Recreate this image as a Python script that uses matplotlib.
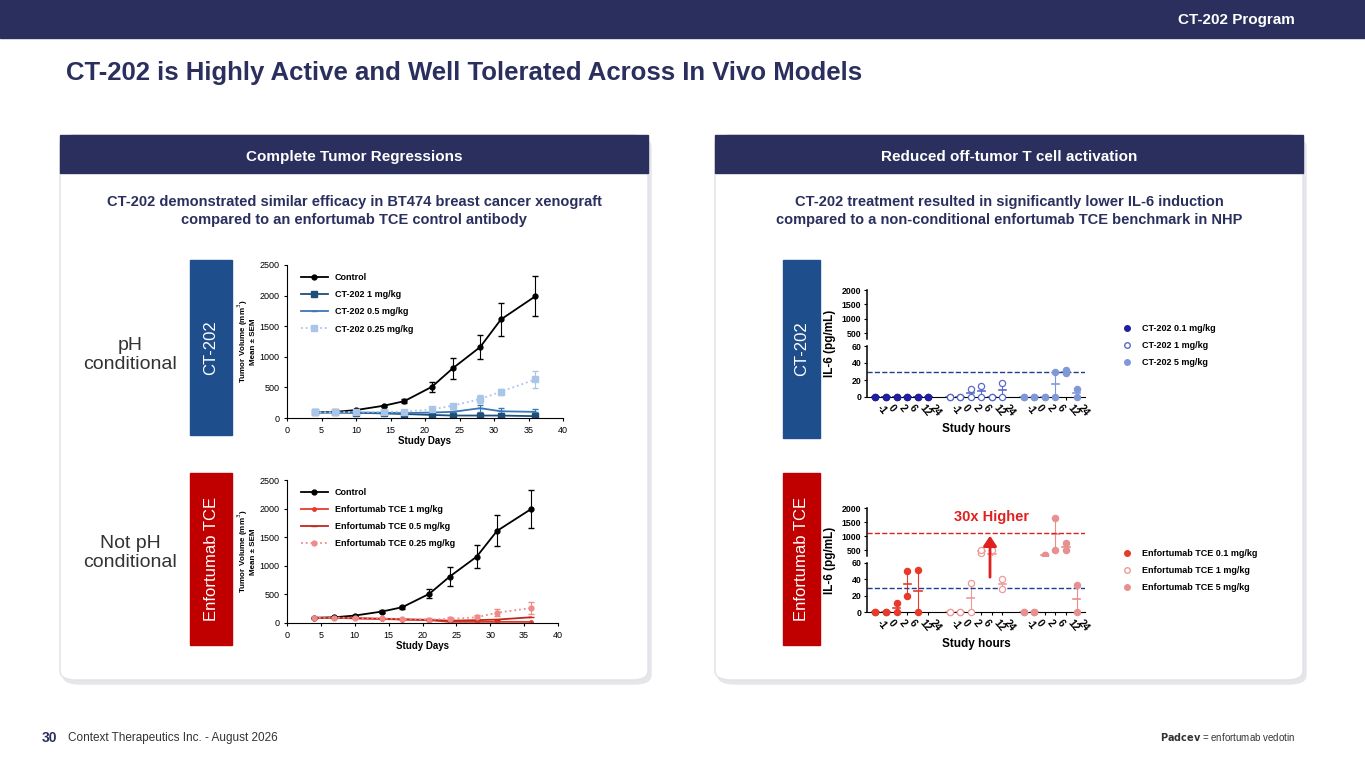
import matplotlib
matplotlib.use("Agg")
import matplotlib.pyplot as plt
from matplotlib.patches import FancyBboxPatch, Rectangle
from matplotlib.lines import Line2D
import numpy as np

W, H = 1365, 768
plt.rcParams['font.family'] = ['Liberation Sans', 'DejaVu Sans']
NAVY = '#2a2f5e'
BLUE = '#1f4e8c'
RED = '#c00000'

# ---------------- data ----------------
days = [4, 7, 10, 14, 17, 21, 24, 28, 31, 36]
control = [90, 100, 130, 200, 275, 510, 810, 1160, 1610, 1990]
control_err = [10, 10, 15, 20, 30, 80, 170, 200, 270, 330]
ct_1 = [90, 90, 85, 75, 65, 50, 40, 40, 40, 30]
ct_05 = [90, 90, 90, 85, 80, 90, 100, 160, 110, 100]
ct_05_err = [5, 5, 5, 10, 10, 20, 20, 60, 60, 40]
ct_025 = [90, 95, 100, 100, 105, 140, 200, 310, 430, 630]
ct_025_err = [5, 5, 10, 10, 15, 40, 30, 60, 50, 140]
ef_1 = [90, 90, 80, 70, 60, 50, 20, 20, 20, 20]
ef_05 = [90, 90, 85, 75, 65, 55, 40, 50, 60, 100]
ef_025 = [90, 95, 90, 80, 70, 60, 70, 100, 180, 260]
ef_025_err = [5, 5, 10, 10, 10, 20, 30, 40, 60, 100]

hours = ['-1', '0', '2', '6', '12', '24']
il6_ct = {
    'CT-202 0.1 mg/kg': [[0, 0], [0, 0], [0, 0], [0, 0], [0, 0], [0, 0]],
    'CT-202 1 mg/kg': [[0, 0], [0, 0], [0, 10], [0, 13], [0, 0], [0, 17]],
    'CT-202 5 mg/kg': [[0, 0], [0, 0], [0, 0], [0, 30], [28, 30, 32], [0, 10]],
}
il6_ef = {
    'Enfortumab TCE 0.1 mg/kg': [[0, 0], [0, 0], [0, 11], [19, 50], [0, 51], []],
    'Enfortumab TCE 1 mg/kg': [[0, 0], [0, 0], [0, 35], [420, 500], [250, 520], [28, 40]],
    'Enfortumab TCE 5 mg/kg': [[0, 0], [0, 0], [320, 340], [530, 1650], [500, 750], [0, 33]],
}

fig = plt.figure(figsize=(W/100, H/100), dpi=100)
fig.patch.set_facecolor('white')

def fx(x): return x / W
def fy(y): return 1 - y / H
def ax_px(x0, y0, x1, y1):
    a = fig.add_axes([x0/W, 1-y1/H, (x1-x0)/W, (y1-y0)/H])
    a.set_zorder(5)
    a.patch.set_alpha(0)
    return a

# ---------------- slide chrome ----------------
fig.patches.append(Rectangle((0, fy(38)), 1, 38/H, transform=fig.transFigure, color=NAVY))
fig.text(fx(1295), fy(20), 'CT-202 Program', color='white', fontsize=11, weight='bold', ha='right', va='center')
fig.text(fx(66), fy(73), 'CT-202 is Highly Active and Well Tolerated Across In Vivo Models',
         color=NAVY, fontsize=18.5, weight='bold', va='center')

for (x0, x1, head) in [(60, 648, 'Complete Tumor Regressions'), (715, 1303, 'Reduced off-tumor T cell activation')]:
    fig.patches.append(FancyBboxPatch((fx(x0+3), fy(684)), (x1-x0)/W, (684-138)/H, boxstyle='round,pad=0,rounding_size=0.012',
                                      transform=fig.transFigure, color='#e6e6ea', zorder=0))
    fig.patches.append(FancyBboxPatch((fx(x0), fy(680)), (x1-x0)/W, (680-135)/H, boxstyle='round,pad=0,rounding_size=0.012',
                                      transform=fig.transFigure, facecolor='white', edgecolor='#e2e2e6', zorder=0.5))
    fig.patches.append(Rectangle((fx(x0), fy(173)), (x1-x0)/W, 38/H, transform=fig.transFigure, color=NAVY, zorder=1))
    fig.text(fx((x0+x1)/2), fy(157), head, color='white', fontsize=11, weight='bold', ha='center', va='center', zorder=2)

fig.text(fx(354), fy(211), 'CT-202 demonstrated similar efficacy in BT474 breast cancer xenograft\ncompared to an enfortumab TCE control antibody',
         color=NAVY, fontsize=10.5, weight='bold', ha='center', va='center', linespacing=1.4)
fig.text(fx(1009), fy(211), 'CT-202 treatment resulted in significantly lower IL-6 induction\ncompared to a non-conditional enfortumab TCE benchmark in NHP',
         color=NAVY, fontsize=10.5, weight='bold', ha='center', va='center', linespacing=1.4)

for (x0, x1, y0, y1, c, t) in [(190, 232, 260, 435, BLUE, 'CT-202'), (190, 232, 473, 645, RED, 'Enfortumab TCE'),
                               (783, 820, 260, 438, BLUE, 'CT-202'), (783, 820, 473, 645, RED, 'Enfortumab TCE')]:
    fig.patches.append(Rectangle((fx(x0), fy(y1)), (x1-x0)/W, (y1-y0)/H, transform=fig.transFigure, color=c, zorder=2))
    fig.text(fx((x0+x1)/2), fy((y0+y1)/2), t, color='white', fontsize=12, rotation=90, ha='center', va='center', zorder=3)

fig.text(fx(130), fy(355), 'pH\nconditional', color='#333333', fontsize=14, ha='center', va='center', linespacing=1.2)
fig.text(fx(130), fy(553), 'Not pH\nconditional', color='#333333', fontsize=14, ha='center', va='center', linespacing=1.2)

fig.text(fx(42), fy(738), '30', color=NAVY, fontsize=10, weight='bold', va='center')
fig.text(fx(68), fy(738), 'Context Therapeutics Inc. - August 2026', color='#333333', fontsize=8.5, va='center')
fig.text(fx(1295), fy(737), r'$\bf{Padcev}$ = enfortumab vedotin', color='#333333', fontsize=7, ha='right', va='center')

# ---------------- tumor growth charts ----------------
def tumor_ax(ax, series, ylabel):
    handles = []
    for (y, err, col, ls, mk, ms, lab, mfc) in series:
        ax.errorbar(days, y, yerr=err, color=col, ls=ls, marker=mk, ms=ms, lw=1.3, capsize=2,
                    elinewidth=0.8, mfc=mfc, mec=mfc)
        handles.append(Line2D([], [], color=col, ls=ls, marker=mk, ms=ms, lw=1.3, mfc=mfc, mec=mfc, label=lab))
    ax.set_xlim(0, 40); ax.set_ylim(0, 2500)
    ax.set_xticks(range(0, 41, 5)); ax.set_yticks(range(0, 2501, 500))
    ax.tick_params(labelsize=6.5, length=2)
    for s in ['top', 'right']: ax.spines[s].set_visible(False)
    ax.set_xlabel('Study Days', fontsize=7, weight='bold', labelpad=1)
    ax.set_ylabel(ylabel, fontsize=5.8, weight='bold', labelpad=2, linespacing=1.0)
    ax.legend(handles=handles, loc='upper left', frameon=False, prop={'weight': 'bold', 'size': 6.5},
              handlelength=3, labelspacing=0.9, bbox_to_anchor=(0.02, 1.0))

ax1 = ax_px(287, 265, 563, 418)
tumor_ax(ax1, [
    (control, control_err, 'black', '-', 'o', 3.5, 'Control', 'black'),
    (ct_1, None, '#1f4e79', '-', 's', 4, 'CT-202 1 mg/kg', '#1f4e79'),
    (ct_05, ct_05_err, '#3a77b5', '-', '_', 4, 'CT-202 0.5 mg/kg', '#3a77b5'),
    (ct_025, ct_025_err, '#a9c6e8', ':', 's', 4, 'CT-202 0.25 mg/kg', '#a9c6e8'),
], 'Tumor Volume (mm$^3$)\nMean ± SEM')

ax2 = ax_px(287, 480, 558, 623)
tumor_ax(ax2, [
    (control, control_err, 'black', '-', 'o', 3.5, 'Control', 'black'),
    (ef_1, None, '#e8392b', '-', 'o', 2.5, 'Enfortumab TCE 1 mg/kg', '#e8392b'),
    (ef_05, None, '#c0281c', '-', '_', 4, 'Enfortumab TCE 0.5 mg/kg', '#c0281c'),
    (ef_025, ef_025_err, '#f08a8a', ':', 'o', 3.5, 'Enfortumab TCE 0.25 mg/kg', '#f08a8a'),
], 'Tumor Volume (mm$^3$)\nMean ± SEM')

# ---------------- IL-6 charts ----------------
def il6_chart(top, mid, bot, groups, styles, upper_lim, legend_y):
    axu = ax_px(867, top, 1085, mid - 7)
    axl = ax_px(867, mid, 1085, bot)
    pos = []
    for gi, (name, vals) in enumerate(groups.items()):
        col, fill = styles[gi]
        for hi, pts in enumerate(vals):
            x = gi * 7 + hi
            pos.append((x, hours[hi]))
            if not pts:
                continue
            pts = np.array(pts, float)
            m = pts.mean(); sd = pts.std()
            lo = pts[pts <= 60]; hi_ = pts[pts >= upper_lim]
            fc = col if fill else 'white'
            if len(lo):
                axl.scatter([x]*len(lo), lo, s=20, facecolors=fc, edgecolors=col, lw=0.9, zorder=3, clip_on=False)
            if len(hi_):
                axu.scatter([x]*len(hi_), hi_, s=20, facecolors=fc, edgecolors=col, lw=0.9, zorder=3)
            for a in (axu, axl):
                a.errorbar([x], [m], yerr=[sd], color=col, capsize=2, elinewidth=0.8, lw=0, zorder=2)
                a.plot([x-0.35, x+0.35], [m, m], color=col, lw=1.2, zorder=2)
    axl.set_ylim(0, 60); axl.set_yticks([0, 20, 40, 60])
    axu.set_ylim(upper_lim, 2000); axu.set_yticks([500, 1000, 1500, 2000])
    for a in (axu, axl):
        a.set_xlim(-0.8, 19.8)
        for s in ['top', 'right']: a.spines[s].set_visible(False)
        a.spines['left'].set_linewidth(1.1)
        a.tick_params(labelsize=6.3, length=2.5, pad=1.5)
        for lab in a.get_yticklabels(): lab.set_weight('bold')
    axu.spines['bottom'].set_visible(False); axu.set_xticks([])
    axl.set_xticks([p for p, _ in pos]); axl.set_xticklabels([h for _, h in pos], rotation=-50, fontsize=7.5, weight='bold', ha='left')
    axl.axhline(30, color='#1f3f8f', ls='--', lw=1)
    axl.set_xlabel('Study hours', fontsize=8.5, weight='bold')
    fig.text(fx(830), fy((top + bot) / 2), 'IL-6 (pg/mL)', rotation=90, fontsize=8.5, weight='bold', ha='center', va='center', zorder=6)
    handles = [Line2D([], [], ls='', marker='o', ms=4, mfc=(c if f else 'white'), mec=c) for c, f in styles]
    fig.legend(handles, list(groups.keys()), loc='upper left', bbox_to_anchor=(fx(1110), fy(legend_y)),
               frameon=False, prop={'size': 6.5, 'weight': 'bold'}, handletextpad=0.6, labelspacing=0.9)
    return axu, axl

il6_chart(290, 346, 397, il6_ct, [('#1f1fa0', True), ('#5a6ac8', False), ('#7f98d8', True)], 300, 316)
axu, axl = il6_chart(508, 563, 612, il6_ef, [('#e8392b', True), ('#ee9a9a', False), ('#e88f8f', True)], 300, 541)
axu.axhline(1100, color='#e01f1f', ls='--', lw=1)
fig.text(fx(992), fy(517), '30x Higher', color='#e01f1f', fontsize=10.5, weight='bold', ha='center', va='center', zorder=6)
arr = matplotlib.patches.FancyArrowPatch((fx(990), fy(580)), (fx(990), fy(533)), transform=fig.transFigure,
                                         arrowstyle='-|>,head_length=6,head_width=4', color='#e01f1f', lw=2, zorder=6)
fig.patches.append(arr)

fig.savefig('out.png', dpi=100)
